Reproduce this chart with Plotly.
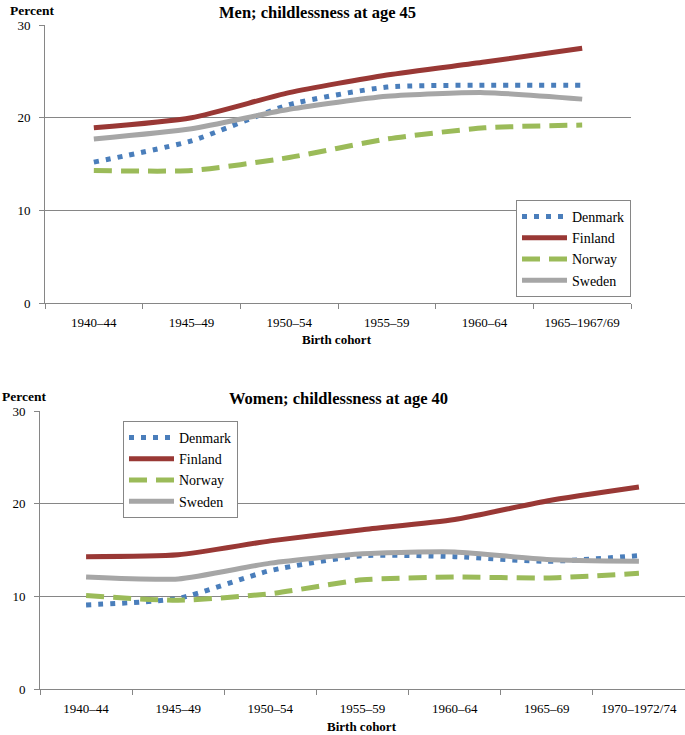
import plotly.graph_objects as go

men_cohorts = ["1940–44", "1945–49", "1950–54", "1955–59", "1960–64", "1965–1967/69"]
men_denmark = [15.2, 17.5, 21.4, 23.3, 23.5, 23.5]
men_finland = [18.9, 20.0, 22.7, 24.6, 26.0, 27.5]
men_norway = [14.3, 14.3, 15.7, 17.7, 18.9, 19.2]
men_sweden = [17.7, 18.8, 20.9, 22.3, 22.7, 22.0]

women_cohorts = ["1940–44", "1945–49", "1950–54", "1955–59", "1960–64", "1965–69", "1970–1972/74"]
women_denmark = [9.1, 9.8, 12.8, 14.4, 14.3, 13.8, 14.4]
women_finland = [14.3, 14.5, 16.0, 17.2, 18.3, 20.3, 21.8]
women_norway = [10.1, 9.6, 10.3, 11.8, 12.1, 12.0, 12.5]
women_sweden = [12.1, 11.9, 13.6, 14.6, 14.8, 14.0, 13.8]

countries = ["Denmark", "Finland", "Norway", "Sweden"]
styles = {
    "Denmark": dict(color="#4a7ebb", dash="5px,7px", width=5),
    "Finland": dict(color="#993835", dash="solid", width=5),
    "Norway": dict(color="#9bbb59", dash="18px,9px", width=5),
    "Sweden": dict(color="#a6a6a6", dash="solid", width=5),
}
FONT = "Liberation Serif"

fig = go.Figure()
men = dict(zip(countries, [men_denmark, men_finland, men_norway, men_sweden]))
women = dict(zip(countries, [women_denmark, women_finland, women_norway, women_sweden]))
for c in countries:
    fig.add_trace(go.Scatter(x=men_cohorts, y=men[c], name=c, mode="lines",
                             line=dict(shape="spline", smoothing=0.6, **styles[c]),
                             xaxis="x", yaxis="y", legend="legend"))
for c in countries:
    fig.add_trace(go.Scatter(x=women_cohorts, y=women[c], name=c, mode="lines",
                             line=dict(shape="spline", smoothing=0.6, **styles[c]),
                             xaxis="x2", yaxis="y2", legend="legend2"))

W, H = 685, 735

axis_common = dict(showline=True, linecolor="#868686", linewidth=1, automargin=False,
                   ticks="outside", tickcolor="#868686", ticklen=5,
                   tickfont=dict(family=FONT, size=13, color="black"))
xax = dict(tickson="boundaries", ticklabelstandoff=7, **axis_common)
yax = dict(range=[0, 30], dtick=10, ticklabelstandoff=6, showgrid=True,
           gridcolor="#868686", gridwidth=1, zeroline=False, **axis_common)
fig.update_layout(
    width=W, height=H, margin=dict(l=0, r=0, t=0, b=0),
    paper_bgcolor="white", plot_bgcolor="white",
    font=dict(family=FONT, color="black"),
    xaxis=dict(domain=[45/W, 631/W], anchor="y",
               range=[-0.5, len(men_cohorts) - 0.5], **xax),
    yaxis=dict(domain=[1-303/H, 1-25/H], anchor="x", **yax),
    xaxis2=dict(domain=[40/W, 1.0], anchor="y2",
                range=[-0.5, len(women_cohorts) - 0.5], **xax),
    yaxis2=dict(domain=[1-689.3/H, 1-411/H], anchor="x2", **yax),
    legend=dict(x=631/W, y=1-200/H, xanchor="right", yanchor="top",
                bordercolor="#868686", borderwidth=1, bgcolor="white",
                font=dict(family=FONT, size=14), itemwidth=45, tracegroupgap=0),
    legend2=dict(x=123/W, y=1-421/H, xanchor="left", yanchor="top",
                 bordercolor="#868686", borderwidth=1, bgcolor="white",
                 font=dict(family=FONT, size=14), itemwidth=45, tracegroupgap=0),
    annotations=[
        dict(text="<b>Men; childlessness at age 45</b>", x=317/W, y=1-1/H, xref="paper", yref="paper",
             xanchor="center", yanchor="top", showarrow=False, font=dict(family=FONT, size=16.5)),
        dict(text="<b>Percent</b>", x=8/W, y=1-1/H, xref="paper", yref="paper",
             xanchor="left", yanchor="top", showarrow=False, font=dict(family=FONT, size=13.5)),
        dict(text="<b>Birth cohort</b>", x=337/W, y=1-330/H, xref="paper", yref="paper",
             xanchor="center", yanchor="top", showarrow=False, font=dict(family=FONT, size=13)),
        dict(text="<b>Women; childlessness at age 40</b>", x=338/W, y=1-387/H, xref="paper", yref="paper",
             xanchor="center", yanchor="top", showarrow=False, font=dict(family=FONT, size=16.5)),
        dict(text="<b>Percent</b>", x=0/W, y=1-387/H, xref="paper", yref="paper",
             xanchor="left", yanchor="top", showarrow=False, font=dict(family=FONT, size=13.5)),
        dict(text="<b>Birth cohort</b>", x=362/W, y=1-717/H, xref="paper", yref="paper",
             xanchor="center", yanchor="top", showarrow=False, font=dict(family=FONT, size=13)),
    ],
)

fig.write_html("out.html", config={"displayModeBar": False},
               post_script="document.body.style.margin='0';")
